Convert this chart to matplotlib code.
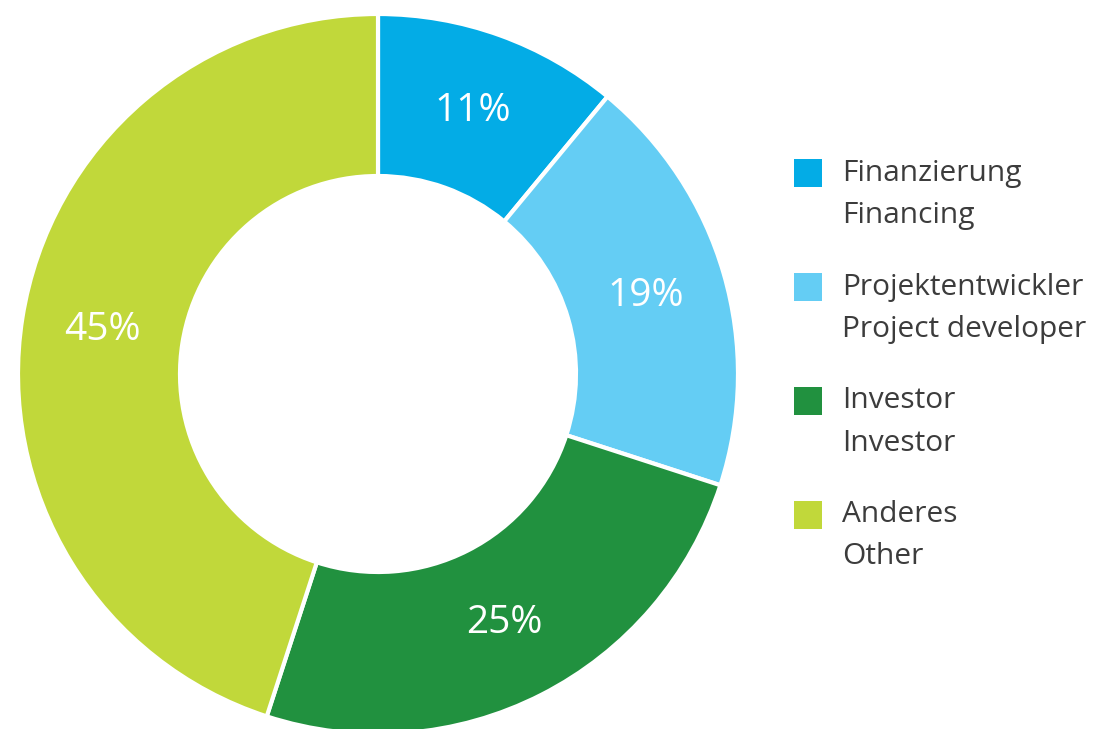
import matplotlib
matplotlib.use('Agg')
import matplotlib.pyplot as plt
from matplotlib.patches import Rectangle

plt.rcParams['font.family'] = ['Open Sans', 'DejaVu Sans']

labels_de = ['Finanzierung', 'Projektentwickler', 'Investor', 'Anderes']
labels_en = ['Financing', 'Project developer', 'Investor', 'Other']
shares = [11, 19, 25, 45]
colors = ['#03ace6', '#64cdf4', '#21913f', '#c1d83a']

fig = plt.figure(figsize=(10.99, 7.29), dpi=100)

# donut
ax = fig.add_axes([18/1099, -5/729, 720/1099, 720/729])
wedges, texts, autotexts = ax.pie(shares, colors=colors, startangle=90, counterclock=False,
                                  radius=1.0, autopct='%d%%', pctdistance=0.775,
                                  wedgeprops=dict(width=0.45, edgecolor='white', linewidth=3),
                                  textprops=dict(color='white', fontsize=28))
ax.set_xlim(-1, 1)
ax.set_ylim(-1, 1)
ax.set_aspect('equal')
ax.axis('off')

# legend drawn by hand
for i in range(len(shares)):
    top = 159 + i*114
    fig.patches.append(Rectangle((794/1099, 1 - (top+28)/729), 28/1099, 28/729,
                                 transform=fig.transFigure, facecolor=colors[i], edgecolor='none'))
    fig.text(842/1099, 1 - (top+14)/729, labels_de[i], fontsize=21.5, color='#3c3c3c', va='center', ha='left')
    fig.text(842/1099, 1 - (top+56)/729, labels_en[i], fontsize=21.5, color='#3c3c3c', va='center', ha='left')

fig.savefig('out.png', dpi=100)
